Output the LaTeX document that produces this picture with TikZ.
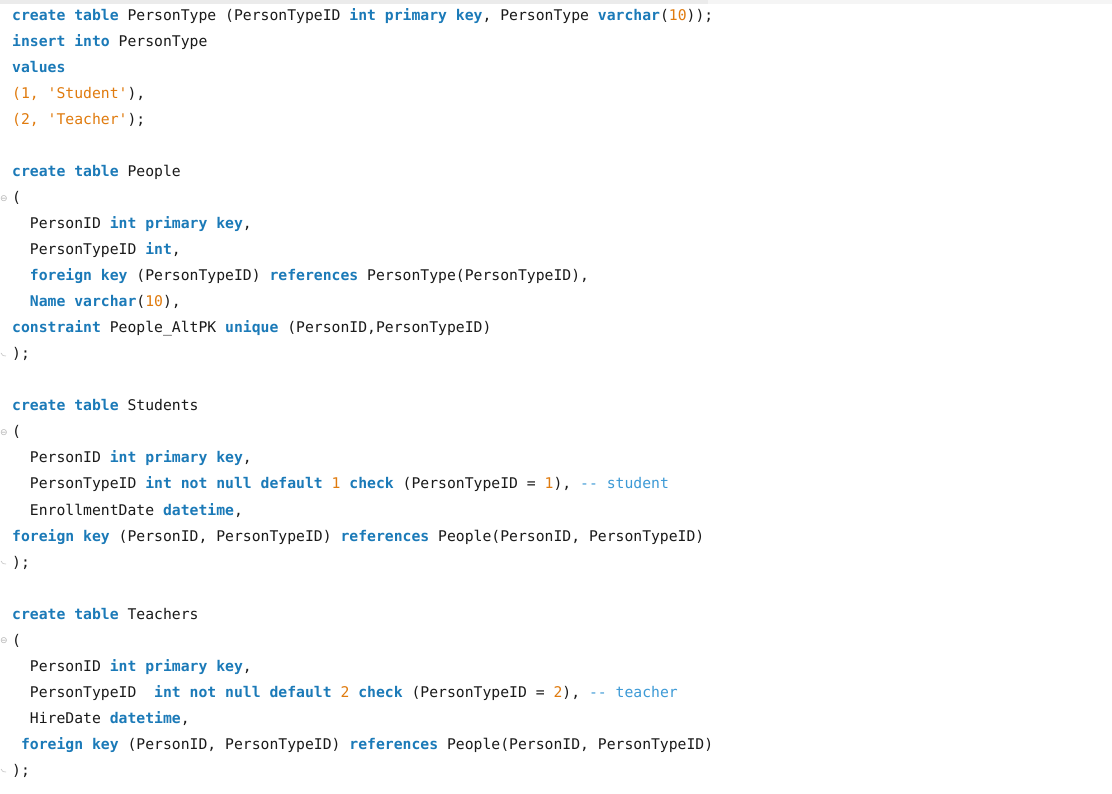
\documentclass[tikz,border=0pt]{standalone}
\usepackage{fontspec}
\setmonofont{DejaVu Sans Mono}
\newfontfamily\symf{DejaVu Sans}
\definecolor{kwc}{HTML}{1B7AB8}
\definecolor{nmc}{HTML}{E07B0E}
\definecolor{cmc}{HTML}{3D9AD6}
\definecolor{txc}{HTML}{1A1A1A}
\newcommand{\kw}[1]{\textbf{\textcolor{kwc}{#1}}}
\newcommand{\nm}[1]{\textcolor{nmc}{#1}}
\newcommand{\cm}[1]{\textcolor{cmc}{#1}}
\tikzset{codeline/.style={anchor=west,inner sep=0pt,text=txc,font=\ttfamily\fontsize{14.74}{16}\selectfont,text height=11pt,text depth=3pt},
fold/.style={text=gray!60,inner sep=0pt,font=\symf\fontsize{9}{9}\selectfont}}
\begin{document}
\begin{tikzpicture}[x=1pt,y=-1pt]
\useasboundingbox (0,0) rectangle (1112,794);
\fill[white] (0,0) rectangle (1112,794);
\fill[black!8] (0,0) rectangle (708,4);
\fill[black!4] (708,0) rectangle (1112,4);
\node[codeline] (l0) at (12,17) {\kw{create} \kw{table} PersonType (PersonTypeID \kw{int} \kw{primary} \kw{key}, PersonType \kw{varchar}(\nm{10}));};
\node[codeline] (l1) at (12,43) {\kw{insert} \kw{into} PersonType};
\node[codeline] (l2) at (12,69) {\kw{values}};
\node[codeline] (l3) at (12,95) {\nm{(1,} \nm{'Student'}),};
\node[codeline] (l4) at (12,121) {\nm{(2,} \nm{'Teacher'});};
\node[codeline] (l6) at (12,173) {\kw{create} \kw{table} People};
\node[codeline] (l7) at (12,199) {(};
\node[codeline] (l8) at (12,225) {~~PersonID \kw{int} \kw{primary} \kw{key},};
\node[codeline] (l9) at (12,251) {~~PersonTypeID \kw{int},};
\node[codeline] (l10) at (12,277) {~~\kw{foreign} \kw{key} (PersonTypeID) \kw{references} PersonType(PersonTypeID),};
\node[codeline] (l11) at (12,303) {~~\kw{Name} \kw{varchar}(\nm{10}),};
\node[codeline] (l12) at (12,329) {\kw{constraint} People\_AltPK \kw{unique} (PersonID,PersonTypeID)};
\node[codeline] (l13) at (12,355) {);};
\node[codeline] (l15) at (12,407) {\kw{create} \kw{table} Students};
\node[codeline] (l16) at (12,433) {(};
\node[codeline] (l17) at (12,459) {~~PersonID \kw{int} \kw{primary} \kw{key},};
\node[codeline] (l18) at (12,485) {~~PersonTypeID \kw{int} \kw{not} \kw{null} \kw{default} \nm{1} \kw{check} (PersonTypeID = \nm{1}), \cm{-- student}};
\node[codeline] (l19) at (12,511) {~~EnrollmentDate \kw{datetime},};
\node[codeline] (l20) at (12,537) {\kw{foreign} \kw{key} (PersonID, PersonTypeID) \kw{references} People(PersonID, PersonTypeID)};
\node[codeline] (l21) at (12,563) {);};
\node[codeline] (l23) at (12,615) {\kw{create} \kw{table} Teachers};
\node[codeline] (l24) at (12,641) {(};
\node[codeline] (l25) at (12,667) {~~PersonID \kw{int} \kw{primary} \kw{key},};
\node[codeline] (l26) at (12,693) {~~PersonTypeID~~\kw{int} \kw{not} \kw{null} \kw{default} \nm{2} \kw{check} (PersonTypeID = \nm{2}), \cm{-- teacher}};
\node[codeline] (l27) at (12,719) {~~HireDate \kw{datetime},};
\node[codeline] (l28) at (12,745) {~\kw{foreign} \kw{key} (PersonID, PersonTypeID) \kw{references} People(PersonID, PersonTypeID)};
\node[codeline] (l29) at (12,771) {);};
\foreach \n/\yy in {f1/199,f2/433,f3/641}{\node[fold] (\n) at (4,\yy) {⊖};}
\foreach \yy in {355,563,771}{\draw[gray!50,line width=0.6pt] (1,\yy-2) .. controls (3,\yy+1) .. (6,\yy+1);}
\end{tikzpicture}
\end{document}
